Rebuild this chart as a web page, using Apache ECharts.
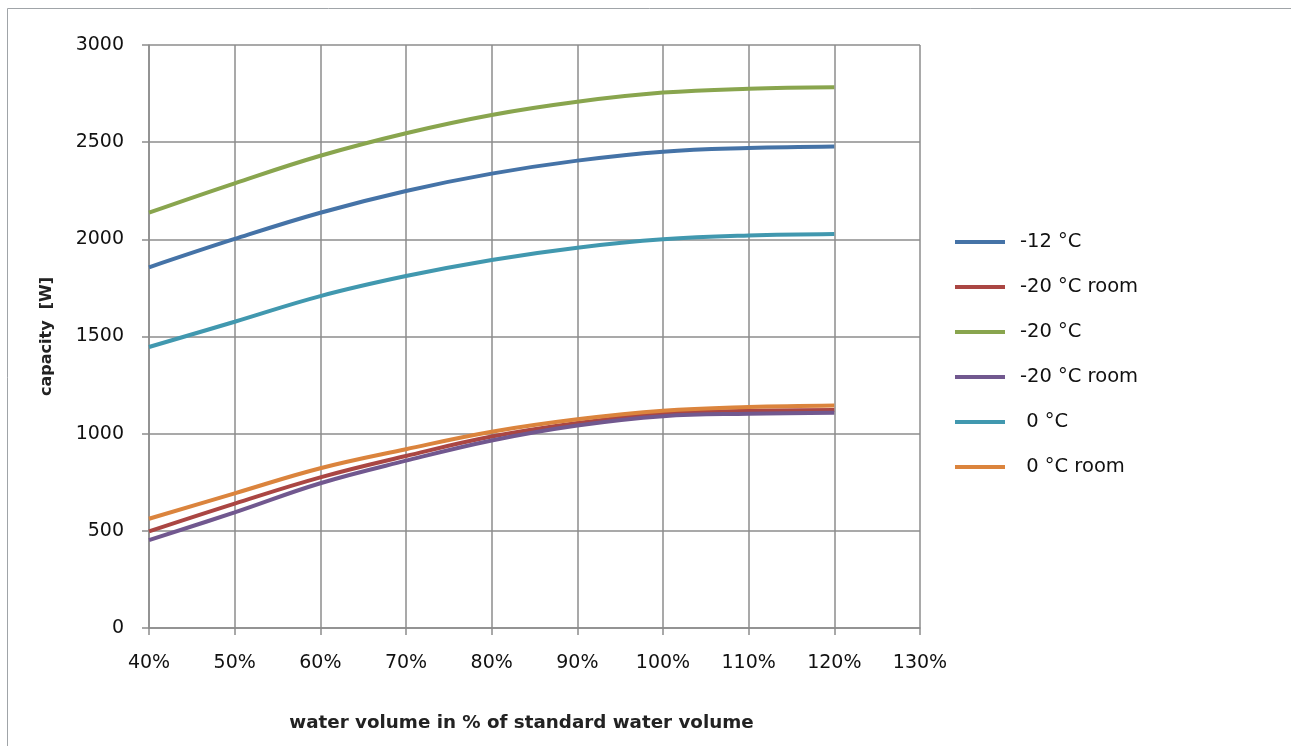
<!DOCTYPE html>
<html><head><meta charset="utf-8">
<script src="https://cdn.jsdelivr.net/npm/echarts@6/dist/echarts.min.js"></script>
<style>html,body{margin:0;padding:0;background:#fff;}#c{width:1291px;height:746px;}</style>
</head><body><div id="c"></div>
<script>
const xValues = [40, 50, 60, 70, 80, 90, 100, 110, 120];
const seriesNames = ['-12 °C', '-20 °C room', '-20 °C', '-20 °C room', ' 0 °C', ' 0 °C room'];
const s_m12 = [1856, 2002, 2137, 2249, 2338, 2405, 2451, 2470, 2478];
const s_m20room = [497, 640, 775, 885, 985, 1055, 1103, 1118, 1122];
const s_m20 = [2137, 2288, 2430, 2546, 2640, 2708, 2755, 2775, 2782];
const s_m20room2 = [452, 595, 745, 861, 965, 1042, 1090, 1103, 1108];
const s_0 = [1446, 1576, 1708, 1811, 1894, 1957, 2000, 2020, 2028];
const s_0room = [562, 693, 822, 920, 1010, 1074, 1118, 1137, 1145];
const colors = ['#4573a7', '#aa4643', '#89a54e', '#71588f', '#4198af', '#db843d'];
const allData = [s_m12, s_m20room, s_m20, s_m20room2, s_0, s_0room];

const chart = echarts.init(document.getElementById('c'));
const font = '"DejaVu Sans", sans-serif';
chart.setOption({
  animation: false,
  textStyle: { fontFamily: font },
  graphic: [{ type: 'rect', shape: { x: 7.5, y: 8.5, width: 1400, height: 900 }, style: { fill: 'none', stroke: '#a0a4a8', lineWidth: 1 }, silent: true }],
  grid: { left: 149, right: 371, top: 45, bottom: 118 },
  legend: {
    orient: 'vertical', left: 950, top: 227, itemGap: 25, itemWidth: 50, itemHeight: 4,
    icon: 'rect',
    textStyle: { fontSize: 19.5, color: '#111', fontFamily: font, padding: [0, 0, 0, 10] },
    data: seriesNames.map((n, i) => ({ name: n + '\u200b'.repeat(i) }))
  },
  xAxis: {
    type: 'value', min: 40, max: 130, interval: 10,
    name: 'water volume in % of standard water volume', nameLocation: 'middle', nameGap: 86,
    nameTextStyle: { fontSize: 18.3, color: '#222', fontWeight: 'bold', fontFamily: font, padding: [0, 26, 0, 0] },
    axisLine: { lineStyle: { color: '#8c8c8c', width: 1.5 } },
    axisTick: { show: true, length: 7, lineStyle: { color: '#8c8c8c', width: 1.5 } },
    axisLabel: { formatter: '{value}%', fontSize: 19, color: '#111', margin: 26 },
    splitLine: { show: true, lineStyle: { color: '#8c8c8c', width: 1.5 } }
  },
  yAxis: {
    type: 'value', min: 0, max: 3000, interval: 500,
    name: 'capacity  [W]', nameLocation: 'middle', nameGap: 94,
    nameTextStyle: { fontSize: 16, color: '#222', fontWeight: 'bold', fontFamily: font },
    axisLine: { show: true, lineStyle: { color: '#8c8c8c', width: 1.5 } },
    axisTick: { show: true, length: 7, lineStyle: { color: '#8c8c8c', width: 1.5 } },
    axisLabel: { fontSize: 19, color: '#111', margin: 25, formatter: v => String(v) },
    splitLine: { show: true, lineStyle: { color: '#8c8c8c', width: 1.5 } }
  },
  series: allData.map((d, i) => ({
    name: seriesNames[i] + '\u200b'.repeat(i),
    type: 'line', smooth: 0.4, symbol: 'none',
    color: colors[i],
    lineStyle: { width: 4, color: colors[i] },
    data: d.map((v, j) => [xValues[j], v])
  }))
});
</script></body></html>
